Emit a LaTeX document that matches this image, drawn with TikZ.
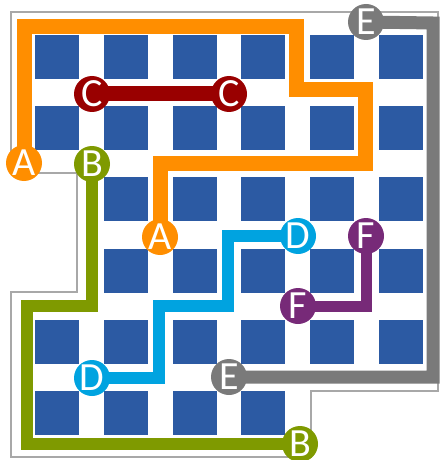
\documentclass[tikz,border=0pt]{standalone}
\usepackage{fontspec}
\setmainfont{Carlito}
\usetikzlibrary{backgrounds}

\definecolor{cellblue}{HTML}{2C5AA3}
\definecolor{pathA}{HTML}{FF8E00}
\definecolor{pathB}{HTML}{7F9A00}
\definecolor{pathC}{HTML}{990000}
\definecolor{pathD}{HTML}{00A3E0}
\definecolor{pathE}{HTML}{7A7A7A}
\definecolor{pathF}{HTML}{772A78}
\definecolor{rim}{HTML}{A8A8A8}

\begin{document}
\begin{tikzpicture}[x=0.5pt,y=-0.5pt,
  pin/.style={circle, fill=#1, minimum size=18pt, inner sep=0pt,
    text=white, font=\fontsize{20}{20}\selectfont},
  wire/.style={draw=#1, line join=miter},
  cell/.style={fill=cellblue}]
\useasboundingbox (0,0) rectangle (440,460);

% Terminals
\node[pin=pathA] (A1) at (24,163) {A};
\node[pin=pathA] (A2) at (160,237) {A};
\node[pin=pathB] (B1) at (92,164) {B};
\node[pin=pathB] (B2) at (300,444) {B};
\node[pin=pathC] (C1) at (92,94) {C};
\node[pin=pathC] (C2) at (229,94) {C};
\node[pin=pathD] (D1) at (92,378) {D};
\node[pin=pathD] (D2) at (298,236) {D};
\node[pin=pathE] (E1) at (366,22) {E};
\node[pin=pathE] (E2) at (229,377) {E};
\node[pin=pathF] (F1) at (366,236) {F};
\node[pin=pathF] (F2) at (298,306) {F};

\begin{pgfonlayer}{background}
% Board outline
\draw[rim, line width=1pt] (11,12) -- (438,12) -- (438,391) -- (311,391) -- (311,457)
  -- (11,457) -- (11,292) -- (77,292) -- (77,173) -- (11,173) -- cycle;

% Cells (row / columns present)
\foreach \r/\cl in {0/{0,...,5},1/{0,...,5},2/{1,...,5},3/{1,...,5},4/{0,...,5},5/{0,...,3}}
  \foreach \c in \cl
    \fill[cellblue] ({35+68.8*\c},{35+71.2*\r}) rectangle ++(44,44);

% Routed wires
\draw[wire=pathA, line width=7.5pt] (A1.center) -- (24,27) -- (296,27) -- (296,90)
  -- (365,90) -- (365,163) -- (160,163) -- (A2.center);
\draw[wire=pathC, line width=7.5pt] (C1.center) -- (C2.center);
\draw[wire=pathE, line width=6.5pt] (E1.center) -- (433,23) -- (433,377) -- (E2.center);
\draw[wire=pathB, line width=6pt] (B1.center) -- (92,306) -- (27,306) -- (27,444) -- (B2.center);
\draw[wire=pathD, line width=6pt] (D1.center) -- (159,378) -- (159,306) -- (228,306)
  -- (228,236) -- (D2.center);
\draw[wire=pathF, line width=5.5pt] (F1.center) -- (366,306) -- (F2.center);
\end{pgfonlayer}

\end{tikzpicture}
\end{document}
